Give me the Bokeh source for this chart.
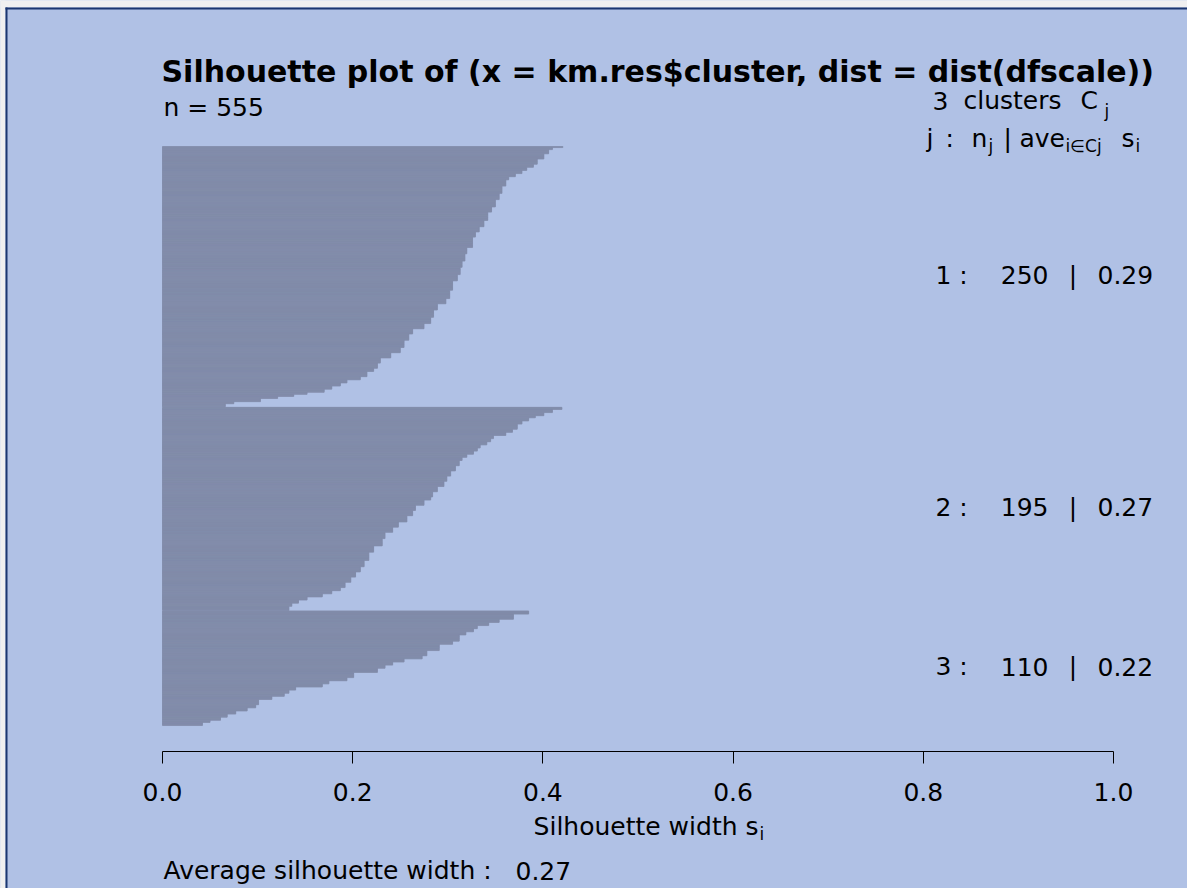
import numpy as np
from bokeh.plotting import figure
from bokeh.models import (Range1d, LinearAxis, FixedTicker, PrintfTickFormatter,
                          BoxAnnotation)
from bokeh.core.properties import value
from bokeh.embed import file_html
from bokeh.resources import INLINE

# ---- silhouette widths per cluster, sorted decreasing: (width, run length) ----
c1_width = [0.421, 0.410, 0.406, 0.401, 0.394, 0.390, 0.383, 0.378, 0.371, 0.364,
            0.361, 0.357, 0.354, 0.350, 0.346, 0.342, 0.338, 0.333, 0.329, 0.326,
            0.320, 0.318, 0.315, 0.313, 0.310, 0.305, 0.302, 0.298, 0.289, 0.285,
            0.282, 0.275, 0.263, 0.259, 0.254, 0.250, 0.240, 0.229, 0.226, 0.222,
            0.215, 0.208, 0.194, 0.187, 0.178, 0.170, 0.152, 0.138, 0.121, 0.103,
            0.075, 0.066]
c1_count = [1, 2, 4, 5, 5, 3, 3, 3, 3, 3,
            6, 7, 6, 7, 5, 8, 6, 5, 5, 10,
            6, 7, 6, 7, 6, 9, 8, 5, 6, 7,
            6, 5, 5, 6, 7, 5, 5, 5, 5, 3,
            5, 3, 3, 3, 3, 3, 2, 2, 2, 3,
            2, 3]

c2_width = [0.420, 0.410, 0.401, 0.392, 0.385, 0.378, 0.373, 0.368, 0.361, 0.348,
            0.345, 0.341, 0.334, 0.331, 0.327, 0.320, 0.315, 0.312, 0.308, 0.303,
            0.299, 0.296, 0.289, 0.284, 0.282, 0.275, 0.266, 0.263, 0.257, 0.248,
            0.242, 0.234, 0.231, 0.222, 0.217, 0.212, 0.208, 0.203, 0.198, 0.192,
            0.187, 0.178, 0.168, 0.152, 0.143, 0.136, 0.133]
c2_count = [2, 3, 3, 2, 3, 3, 5, 3, 3, 3,
            3, 3, 3, 3, 3, 3, 3, 5, 5, 5,
            5, 5, 5, 5, 3, 5, 5, 5, 6, 5,
            5, 6, 7, 6, 8, 6, 5, 5, 5, 5,
            3, 3, 3, 3, 3, 3, 4]

c3_width = [0.385, 0.369, 0.354, 0.343, 0.331, 0.327, 0.319, 0.312, 0.305, 0.291,
            0.278, 0.273, 0.254, 0.242, 0.234, 0.226, 0.201, 0.194, 0.175, 0.168,
            0.140, 0.133, 0.128, 0.115, 0.101, 0.098, 0.089, 0.077, 0.068, 0.061,
            0.050, 0.042]
c3_count = [3, 5, 3, 3, 3, 3, 3, 6, 3, 6,
            5, 3, 3, 3, 3, 4, 5, 3, 3, 3,
            3, 3, 3, 3, 5, 3, 3, 3, 3, 3,
            2, 3]

cluster_ids = [1, 2, 3]
cluster_n = [250, 195, 110]
cluster_ave = ["0.29", "0.27", "0.22"]
n_total = 555
ave_total = "0.27"
x_ticks = [0.0, 0.2, 0.4, 0.6, 0.8, 1.0]

# ---- page geometry (pixels) ----
W, H = 1187, 888
X0_PX, X_SCALE = 162.0, 951.0    # pixel column of s = 0, pixels per unit of s
Y0_PX, BAR_PX = 146.0, 1.0414    # top edge of the first bar, pixels per bar
GAP = 0.5                        # space between clusters, in bar heights


def sx(px):
    return (px - X0_PX) / X_SCALE


def sy(py):
    return (py - Y0_PX) / BAR_PX


BG = "#B0C1E5"
BAR = "#818CA9"
FONT = "DejaVu Sans"

p = figure(width=W, height=H,
           x_range=Range1d(sx(0), sx(W)), y_range=Range1d(sy(H), sy(0)),
           output_backend="svg", toolbar_location=None,
           x_axis_location=None, y_axis_location=None,
           min_border=0, background_fill_color=BG, border_fill_color=BG,
           outline_line_color=None)
p.xgrid.visible = False
p.ygrid.visible = False

# ---- silhouette bars, clusters stacked from the top ----
widths = [np.repeat(c1_width, c1_count),
          np.repeat(c2_width, c2_count),
          np.repeat(c3_width, c3_count)]
start = 0.0
centers = []
for w in widths:
    ys = start + np.arange(len(w)) + 0.5
    p.hbar(y=ys, left=0, right=w, height=1.0, fill_color=BAR,
           line_color=BAR, line_width=0.8)
    centers.append(start + len(w) / 2.0)
    start += len(w) + GAP

# ---- x axis ----
ax = LinearAxis(ticker=FixedTicker(ticks=x_ticks),
                formatter=PrintfTickFormatter(format="%.1f"),
                fixed_location=sy(751), bounds=(0, 1))
ax.axis_line_color = "black"
ax.axis_line_width = 1
ax.major_tick_line_color = "black"
ax.major_tick_out = 12
ax.major_tick_in = 0
ax.minor_tick_line_color = None
ax.major_label_text_font = FONT
ax.major_label_text_font_size = "25px"
ax.major_label_text_color = "black"
ax.major_label_standoff = 19
p.add_layout(ax, "below")


def put(px, py, txt, size=25, bold=False, align="left"):
    p.text(x=[sx(px)], y=[sy(py)], text=[txt], text_font=value(FONT),
           text_font_size=f"{size}px",
           text_font_style="bold" if bold else "normal",
           text_align=align, text_baseline="middle", text_color="black")


# ---- titles and annotations ----
put(161, 71, "Silhouette plot of (x = km.res$cluster, dist = dist(dfscale))", 30, bold=True)
put(163, 107, f"n = {n_total}")

put(932, 100, str(len(cluster_ids)))
put(963, 100, "clusters")
put(1080, 100, "C")
put(1104, 110, "j", 17)

put(926, 138, "j")
put(945, 138, ":")
put(971, 138, "n")
put(988, 145, "j", 17)
put(1003, 138, "|")
put(1019, 138, "ave")
put(1065, 145, "i\u2208Cj", 17)
put(1121, 138, "s")
put(1135, 145, "i", 17)

LIFT = 1.5 / BAR_PX
for cid, n, ave, c in zip(cluster_ids, cluster_n, cluster_ave, centers):
    yc = c - LIFT
    p.text(x=[sx(935)], y=[yc], text=[f"{cid} :"], text_font=value(FONT),
           text_font_size="25px", text_align="left", text_baseline="middle")
    p.text(x=[sx(1048)], y=[yc], text=[str(n)], text_font=value(FONT),
           text_font_size="25px", text_align="right", text_baseline="middle")
    p.text(x=[sx(1072.5)], y=[yc], text=["|"], text_font=value(FONT),
           text_font_size="25px", text_align="center", text_baseline="middle")
    p.text(x=[sx(1097)], y=[yc], text=[ave], text_font=value(FONT),
           text_font_size="25px", text_align="left", text_baseline="middle")

put(758, 826, "Silhouette width s", align="right")
put(759, 833, "i", 17)

put(163, 870, "Average silhouette width :")
put(515, 870, ave_total)

# ---- page frame: light margin and dark border line ----
GREY = "#F0F0F0"
NAVY = "#1B3670"
p.add_layout(BoxAnnotation(left=sx(-20), right=sx(W + 20), top=sy(-20), bottom=sy(7),
                           fill_color=GREY, fill_alpha=1, line_color=None))
p.add_layout(BoxAnnotation(left=sx(-20), right=sx(5), top=sy(-20), bottom=sy(H + 20),
                           fill_color=GREY, fill_alpha=1, line_color=None))
p.add_layout(BoxAnnotation(left=sx(5), right=sx(W + 20), top=sy(7), bottom=sy(9),
                           fill_color=NAVY, fill_alpha=1, line_color=None))
p.add_layout(BoxAnnotation(left=sx(5), right=sx(7), top=sy(7), bottom=sy(H + 20),
                           fill_color=NAVY, fill_alpha=1, line_color=None))

open("out.html", "w").write(file_html(p, INLINE))
